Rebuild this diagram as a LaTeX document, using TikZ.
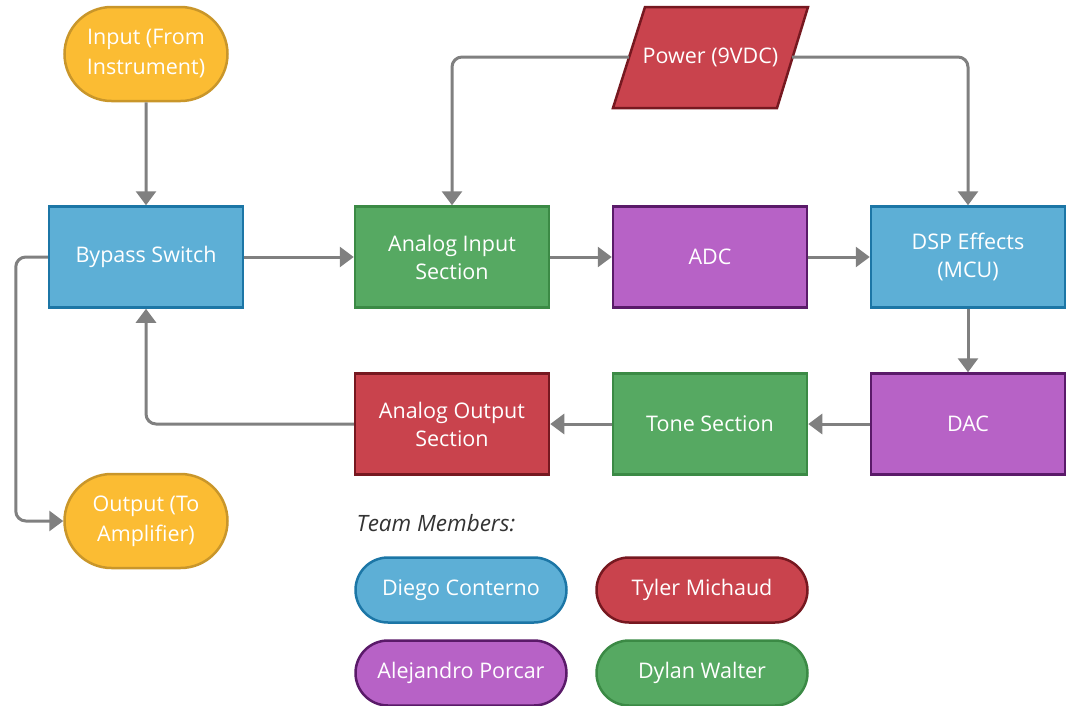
\documentclass[tikz,border=0pt]{standalone}
\usepackage{fontspec}
\setmainfont{Open Sans}
\usetikzlibrary{arrows.meta,shapes.misc}
\definecolor{yfill}{HTML}{FBBC33}
\definecolor{ydraw}{HTML}{C9962A}
\definecolor{bfill}{HTML}{5DAFD6}
\definecolor{bdraw}{HTML}{1C76A6}
\definecolor{gfill}{HTML}{56A962}
\definecolor{gdraw}{HTML}{3B8A45}
\definecolor{pfill}{HTML}{B762C6}
\definecolor{pdraw}{HTML}{5A1A69}
\definecolor{rfill}{HTML}{C9434D}
\definecolor{rdraw}{HTML}{761820}
\definecolor{conn}{HTML}{808080}
\tikzset{
  x=1pt, y=-1pt,
  every node/.style={font=\fontsize{21.5}{28}\selectfont, text=white, align=center},
  block/.style={rectangle, line width=2.5pt, minimum width=194pt, minimum height=101pt, inner sep=0pt},
  term/.style={rounded rectangle, line width=2.5pt, minimum width=163pt, minimum height=94pt, inner sep=0pt, font=\fontsize{21.5}{30}\selectfont},
  pill/.style={rounded rectangle, line width=2.5pt, minimum width=211pt, minimum height=65pt, inner sep=0pt},
  yel/.style={fill=yfill, draw=ydraw},
  blu/.style={fill=bfill, draw=bdraw},
  grn/.style={fill=gfill, draw=gdraw},
  pur/.style={fill=pfill, draw=pdraw},
  red/.style={fill=rfill, draw=rdraw},
  link/.style={draw=conn, line width=3pt, rounded corners=10pt, -{Triangle[length=14pt,width=20pt]}},
}
\begin{document}
\begin{tikzpicture}
\useasboundingbox (0,0) rectangle (1072,705);
\node[term, yel] (input) at (146,54) {Input (From\\Instrument)};
\node[block, blu] (bypass) at (146,257) {Bypass Switch};
\node[block, grn] (ain) at (452,257) {Analog Input\\Section};
\node[block, pur] (adc) at (710,257) {ADC};
\node[block, blu] (dsp) at (968,257) {DSP Effects\\(MCU)};
\node[block, pur] (dac) at (968,424) {DAC};
\node[block, grn] (tone) at (710,424) {Tone Section};
\node[block, red] (aout) at (452,424) {Analog Output\\Section};
\node[term, yel] (output) at (146,521) {Output (To\\Amplifier)};
\draw[red, line width=2.5pt] (613,108) -- (645,7) -- (808,7) -- (777,108) -- cycle;
\node[minimum width=163pt, minimum height=101pt, inner sep=0pt] (power) at (710.5,57) {Power (9VDC)};
\node[anchor=west, text={black!80}, font=\itshape\fontsize{22.5}{28}\selectfont] (team) at (353,523) {Team Members:};
\node[pill, blu] (m1) at (461,590) {Diego Conterno};
\node[pill, red] (m2) at (702,590) {Tyler Michaud};
\node[pill, pur] (m3) at (461,673) {Alejandro Porcar};
\node[pill, grn] (m4) at (702,673) {Dylan Walter};
\draw[link] (input) -- (bypass);
\draw[link] (bypass) -- (ain);
\draw[link] (ain) -- (adc);
\draw[link] (adc) -- (dsp);
\draw[link] (dsp) -- (dac);
\draw[link] (dac) -- (tone);
\draw[link] (tone) -- (aout);
\draw[link] (aout.west) -| (bypass.south);
\draw[link] (bypass.west) -- ++(-32,0) |- (output.west);
\draw[link] (power.west) -| (ain.north);
\draw[link] (power.east) -| (dsp.north);
\end{tikzpicture}
\end{document}
